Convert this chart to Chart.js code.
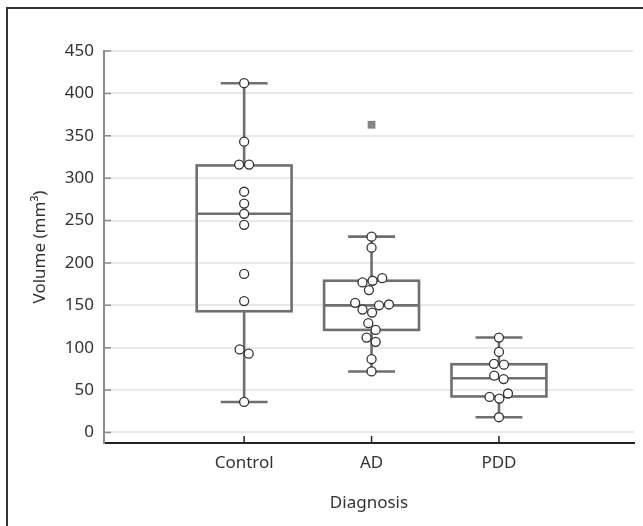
<!DOCTYPE html>
<html>
<head>
<meta charset="utf-8">
<script src="https://cdn.jsdelivr.net/npm/chart.js@4.4.1/dist/chart.umd.min.js"></script>
<style>
  html, body { margin: 0; padding: 0; background: #fff; }
  #wrap { position: relative; width: 643px; height: 526px; overflow: hidden; }
  #frame { position: absolute; left: 6px; top: 7px; right: -4px; bottom: -4px; border-top: 2px solid #333; border-left: 2px solid #333; }
  #chart { position: absolute; left: 0; top: 0; }
</style>
</head>
<body>
<div id="wrap">
  <div id="frame"></div>
  <canvas id="chart" width="643" height="526"></canvas>
</div>
<script>
// Группы и значения (мм³)
const groups = ["Control", "AD", "PDD"]
const controlValues = [412, 343, 316, 316, 284, 270, 258, 245, 187, 155, 98, 93, 36]
const adValues = [231, 218, 182, 179, 177, 168, 153, 151, 150, 145, 141.5, 129, 121, 112, 107, 86.5, 72]
const pddValues = [112, 95, 81, 80, 67, 63, 46, 42, 40, 18]
const adOutliers = [363]

// Статистика боксплотов: нижний ус, Q1, медиана, Q3, верхний ус
const whiskerLow = [36, 72, 18]
const q1 = [143, 121, 42.5]
const median = [258, 150, 64]
const q3 = [315, 179, 80.5]
const whiskerHigh = [412, 231, 112]

const yTicks = [0, 50, 100, 150, 200, 250, 300, 350, 400, 450]

const valueLists = [controlValues, adValues, pddValues]
const pointData = []
valueLists.forEach((list, g) => list.forEach(v => pointData.push({ x: g, y: v, g })))

const FONT = { family: "'Noto Sans', sans-serif", size: 17 }
const BOX_HALF = 0.3725
const CAP_HALF = 0.184
const BOX_COLOR = "#6f6f6f"

// Рисуем ящики, усы и внутренние засечки осей через шкалы графика
const boxPlugin = {
  id: "boxes",
  beforeDatasetsDraw(chart) {
    const { ctx, scales: { x, y }, chartArea } = chart
    ctx.save()
    ctx.strokeStyle = BOX_COLOR
    ctx.lineWidth = 2.6
    groups.forEach((_, i) => {
      const xl = x.getPixelForValue(i - BOX_HALF)
      const xr = x.getPixelForValue(i + BOX_HALF)
      const xc = x.getPixelForValue(i)
      const cl = x.getPixelForValue(i - CAP_HALF)
      const cr = x.getPixelForValue(i + CAP_HALF)
      const yq1 = y.getPixelForValue(q1[i])
      const yq3 = y.getPixelForValue(q3[i])
      const ym = y.getPixelForValue(median[i])
      const ylo = y.getPixelForValue(whiskerLow[i])
      const yhi = y.getPixelForValue(whiskerHigh[i])
      ctx.beginPath()
      ctx.moveTo(xc, yq3); ctx.lineTo(xc, yhi)
      ctx.moveTo(cl, yhi); ctx.lineTo(cr, yhi)
      ctx.moveTo(xc, yq1); ctx.lineTo(xc, ylo)
      ctx.moveTo(cl, ylo); ctx.lineTo(cr, ylo)
      ctx.moveTo(xl, ym); ctx.lineTo(xr, ym)
      ctx.stroke()
      ctx.strokeRect(xl, yq3, xr - xl, yq1 - yq3)
    })
    // засечки внутрь области графика
    ctx.lineWidth = 1.5
    ctx.strokeStyle = "#8c8c8c"
    ctx.beginPath()
    yTicks.forEach(v => {
      const py = y.getPixelForValue(v)
      ctx.moveTo(chartArea.left, py); ctx.lineTo(chartArea.left + 7, py)
    })
    ctx.stroke()
    ctx.strokeStyle = "#222"
    ctx.beginPath()
    groups.forEach((_, i) => {
      const px = x.getPixelForValue(i)
      ctx.moveTo(px, chartArea.bottom); ctx.lineTo(px, chartArea.bottom - 7)
    })
    ctx.stroke()
    ctx.restore()
  }
}

const chart = new Chart(document.getElementById("chart"), {
  type: "scatter",
  data: {
    datasets: [
      {
        label: "Outliers",
        data: adOutliers.map(v => ({ x: 1, y: v })),
        pointStyle: "rect",
        pointRadius: 5.5,
        backgroundColor: "#858585",
        borderWidth: 0
      },
      {
        label: "Volume",
        data: pointData,
        pointRadius: 4.5,
        backgroundColor: "#ffffff",
        borderColor: "#333333",
        borderWidth: 1.3
      }
    ]
  },
  options: {
    responsive: false,
    animation: false,
    layout: { padding: { left: 0, top: 51, right: 9, bottom: 0 } },
    plugins: { legend: { display: false }, tooltip: { enabled: false } },
    scales: {
      x: {
        type: "linear",
        min: -1.1,
        max: 3.06,
        afterBuildTicks: s => { s.ticks = groups.map((_, i) => ({ value: i })) },
        afterFit: s => { s.height = 83 },
        ticks: { font: FONT, color: "#333", padding: 10, callback: v => groups[v] },
        grid: { drawOnChartArea: false, drawTicks: false },
        border: { color: "#222", width: 2 },
        title: { display: true, text: "Diagnosis", font: FONT, color: "#333", padding: { top: 0, bottom: 13 } }
      },
      y: {
        min: -12.4,
        max: 450,
        afterBuildTicks: s => { s.ticks = yTicks.map(v => ({ value: v })) },
        afterFit: s => { s.width = 104 },
        ticks: { font: FONT, color: "#333", padding: 10 },
        grid: { color: "#e9e9e9", lineWidth: 2, drawTicks: false },
        border: { color: "#8c8c8c", width: 2 },
        title: { display: true, text: "Volume (mm³)", font: FONT, color: "#333", padding: { top: 30, bottom: 0 } }
      }
    }
  },
  plugins: [boxPlugin]
})

// Раскладка точек «роем», чтобы кружки не перекрывались;
// каждую группу соприкасающихся точек центрируем по оси категории
function swarm(chart) {
  const { x, y } = chart.scales
  const unit = x.getPixelForValue(1) - x.getPixelForValue(0)
  const D = 10
  groups.forEach((_, g) => {
    const pts = pointData.filter(p => p.g === g)
      .sort((a, b) => a.y - b.y)
    const placed = []
    pts.forEach(p => {
      const py = y.getPixelForValue(p.y)
      const ivs = placed.filter(q => Math.abs(q.py - py) < D).map(q => {
        const dx = Math.sqrt(D * D - (q.py - py) ** 2)
        return [q.px - dx, q.px + dx]
      })
      const cands = [0].concat(...ivs).sort((a, b) => Math.abs(a) - Math.abs(b))
      const px = cands.find(c => ivs.every(([a, b]) => c <= a + 1e-6 || c >= b - 1e-6))
      placed.push({ px, py, p })
    })
    // кластеры по цепочке вертикальных пересечений
    let cluster = []
    const flush = () => {
      const mean = cluster.reduce((s, q) => s + q.px, 0) / cluster.length
      cluster.forEach(q => { q.p.x = g + (q.px - mean) / unit })
      cluster = []
    }
    placed.forEach((q, i) => {
      if (i > 0 && Math.abs(placed[i - 1].py - q.py) >= D) flush()
      cluster.push(q)
    })
    flush()
  })
  chart.update("none")
}
swarm(chart)
</script>
</body>
</html>
